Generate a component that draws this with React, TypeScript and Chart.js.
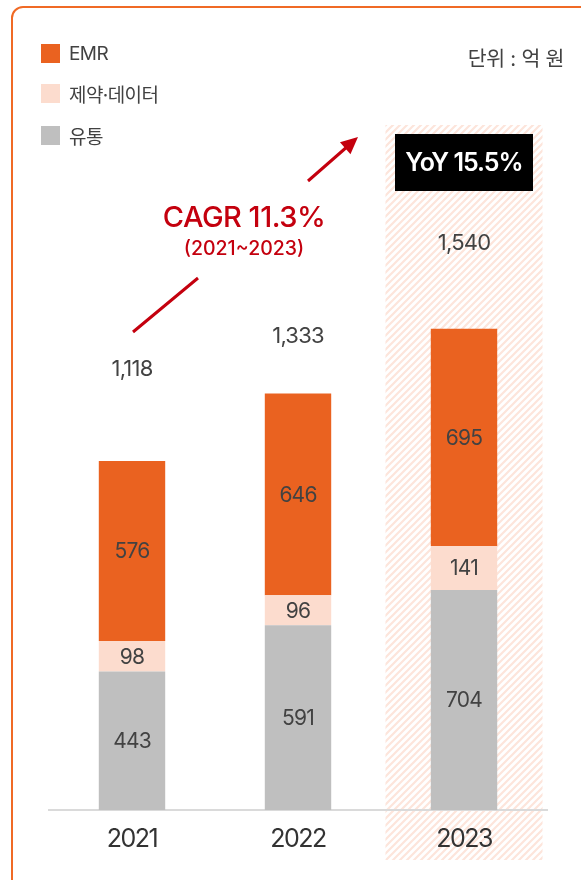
import React, { useEffect, useRef } from 'react';
import { Chart, registerables } from 'chart.js';

Chart.register(...registerables);

// ---- data ----
const categories = ['2021', '2022', '2023'];
const seriesNames = ['EMR', '제약·데이터', '유통'];
const emrValues = [576, 646, 695];
const pharmaDataValues = [98, 96, 141];
const distributionValues = [443, 591, 704];
const totalValues = [1118, 1333, 1540];
const cagrText = 'CAGR 11.3%';
const cagrPeriodText = '(2021~2023)';
const yoyText = 'YoY 15.5%';
const unitText = '단위 : 억 원';

const COLORS = {
  emr: '#EA6220',
  pharma: '#FCDCCE',
  dist: '#BFBFBF',
  text: '#424242',
  red: '#C4000E',
  border: '#F06A25',
};
const FONT = 'Inter, "Noto Sans CJK KR", sans-serif';

function makeHatch(): CanvasPattern | string {
  const c = document.createElement('canvas');
  const s = 7;
  c.width = s;
  c.height = s;
  const g = c.getContext('2d');
  if (!g) return '#FDEEE8';
  g.fillStyle = '#FFFFFF';
  g.fillRect(0, 0, s, s);
  g.strokeStyle = '#FDE5DB';
  g.lineWidth = 2.2;
  g.beginPath();
  g.moveTo(-1, s + 1);
  g.lineTo(s + 1, -1);
  g.moveTo(-1, 1);
  g.lineTo(1, -1);
  g.moveTo(s - 1, s + 1);
  g.lineTo(s + 1, s - 1);
  g.stroke();
  const p = g.createPattern(c, 'repeat');
  return p || '#FDEEE8';
}

const totalOffsets = [-91, -57, -85];

const annotationPlugin = {
  id: 'annotations',
  beforeDraw(chart: any) {
    const { ctx, scales } = chart;
    const x = scales.x;
    const cx = x.getPixelForValue(2);
    const step = x.getPixelForValue(1) - x.getPixelForValue(0);
    const half = step * 0.473;
    ctx.save();
    ctx.fillStyle = makeHatch();
    ctx.fillRect(cx - half, 125, half * 2, 860 - 125);
    ctx.restore();
    (ctx as any).letterSpacing = '-1.5px';
  },
  afterDatasetsDraw(chart: any) {
    const { ctx, scales } = chart;
    const x = scales.x;
    const y = scales.y;
    ctx.save();
    (ctx as any).letterSpacing = '-0.8px';
    ctx.textAlign = 'center';
    ctx.textBaseline = 'middle';
    ctx.fillStyle = COLORS.text;
    ctx.font = `400 21px ${FONT}`;
    chart.data.datasets.forEach((ds: any, di: number) => {
      const meta = chart.getDatasetMeta(di);
      meta.data.forEach((bar: any, i: number) => {
        const v = ds.data[i];
        ctx.fillText(String(v), bar.x, (bar.y + bar.base) / 2 + 1);
      });
    });
    // totals
    ctx.font = `400 22px ${FONT}`;
    totalValues.forEach((t, i) => {
      const px = x.getPixelForValue(i);
      const py = y.getPixelForValue(t) + totalOffsets[i];
      ctx.fillText(t.toLocaleString('en-US'), px, py);
    });

    // YoY box
    const cx = x.getPixelForValue(2);
    ctx.fillStyle = '#000000';
    ctx.fillRect(cx - 69, 134, 138, 57);
    ctx.fillStyle = '#FFFFFF';
    ctx.font = `600 25px ${FONT}`;
    (ctx as any).letterSpacing = '-1px';
    ctx.fillText(yoyText, cx, 163);

    // CAGR text
    ctx.fillStyle = COLORS.red;
    ctx.font = `500 29px ${FONT}`;
    (ctx as any).letterSpacing = '-0.5px';
    ctx.fillText(cagrText, 244, 218);
    ctx.font = `500 19.5px ${FONT}`;
    (ctx as any).letterSpacing = '0px';
    ctx.fillText(cagrPeriodText, 244, 249);

    // arrow
    ctx.strokeStyle = COLORS.red;
    ctx.lineWidth = 3;
    ctx.lineCap = 'butt';
    ctx.beginPath();
    ctx.moveTo(133, 332);
    ctx.lineTo(198, 278);
    ctx.moveTo(308, 181);
    ctx.lineTo(348, 146);
    ctx.stroke();
    // arrow head
    const tipX = 358;
    const tipY = 137;
    const ang = Math.atan2(146 - 181, 348 - 308);
    const len = 17;
    const w = 8;
    const bx = tipX - len * Math.cos(ang);
    const by = tipY - len * Math.sin(ang);
    ctx.fillStyle = COLORS.red;
    ctx.beginPath();
    ctx.moveTo(tipX, tipY);
    ctx.lineTo(bx + w * Math.sin(ang), by - w * Math.cos(ang));
    ctx.lineTo(bx - w * Math.sin(ang), by + w * Math.cos(ang));
    ctx.closePath();
    ctx.fill();
    ctx.restore();
  },
};

export default function App() {
  const canvasRef = useRef<HTMLCanvasElement | null>(null);

  useEffect(() => {
    const canvas = canvasRef.current;
    if (!canvas) return;
    const chart = new Chart(canvas, {
      type: 'bar',
      data: {
        labels: categories,
        datasets: [
          {
            label: seriesNames[2],
            data: distributionValues,
            backgroundColor: COLORS.dist,
            barPercentage: 0.4,
            categoryPercentage: 1,
          },
          {
            label: seriesNames[1],
            data: pharmaDataValues,
            backgroundColor: COLORS.pharma,
            barPercentage: 0.4,
            categoryPercentage: 1,
          },
          {
            label: seriesNames[0],
            data: emrValues,
            backgroundColor: COLORS.emr,
            barPercentage: 0.4,
            categoryPercentage: 1,
          },
        ],
      },
      options: {
        responsive: false,
        animation: false,
        layout: { padding: { left: 49, right: 34, top: 122.5, bottom: 12 } },
        plugins: {
          legend: { display: false },
          tooltip: { enabled: false },
        },
        scales: {
          x: {
            stacked: true,
            grid: { display: false, drawTicks: false },
            border: { display: true, color: '#DADADA', width: 2 },
            ticks: {
              color: '#333333',
              font: { family: FONT, size: 25, weight: 400 },
              padding: 14,
            },
          },
          y: {
            stacked: true,
            display: false,
            min: 0,
            max: 2200,
          },
        },
      },
      plugins: [annotationPlugin],
    });
    return () => chart.destroy();
  }, []);

  const legendItems = [
    { name: seriesNames[0], color: COLORS.emr, top: 44 },
    { name: seriesNames[1], color: COLORS.pharma, top: 84 },
    { name: seriesNames[2], color: COLORS.dist, top: 126 },
  ];

  return (
    <div
      style={{
        position: 'fixed',
        left: 0,
        top: 0,
        width: 581,
        height: 880,
        overflow: 'hidden',
        background: '#FFFFFF',
        fontFamily: FONT,
      }}
    >
      <div
        style={{
          position: 'absolute',
          left: 11,
          top: 6,
          width: 620,
          height: 920,
          border: `2px solid ${COLORS.border}`,
          borderRadius: 12,
          boxSizing: 'border-box',
        }}
      />
      <canvas
        ref={canvasRef}
        width={581}
        height={880}
        style={{ position: 'absolute', left: 0, top: 0, width: 581, height: 880 }}
      />
      {legendItems.map((it) => (
        <div
          key={it.name}
          style={{
            position: 'absolute',
            left: 41,
            top: it.top,
            height: 19,
            display: 'flex',
            alignItems: 'center',
            fontSize: 19,
            color: COLORS.text,
            letterSpacing: '-0.6px',
            whiteSpace: 'nowrap',
          }}
        >
          <span style={{ display: 'inline-block', width: 19, height: 19, background: it.color, marginRight: 9 }} />
          <span>{it.name}</span>
        </div>
      ))}
      <div
        style={{
          position: 'absolute',
          right: 17,
          top: 42,
          fontSize: 20.5,
          color: COLORS.text,
          letterSpacing: '-0.3px',
          whiteSpace: 'nowrap',
        }}
      >
        {unitText}
      </div>
    </div>
  );
}
